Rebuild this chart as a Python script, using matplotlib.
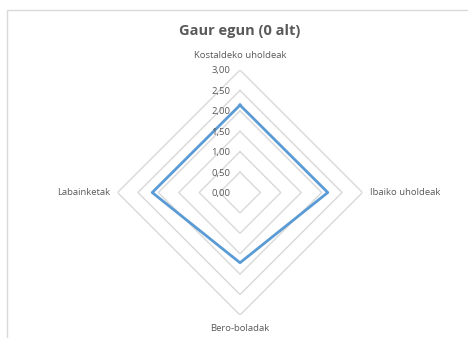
import numpy as np
import matplotlib.pyplot as plt
from matplotlib.patches import Rectangle

plt.rcParams['font.family'] = ['Open Sans', 'DejaVu Sans']

categories = ['Kostaldeko uholdeak', 'Ibaiko uholdeak', 'Bero-boladak', 'Labainketak']
values = [2.14, 2.15, 1.72, 2.15]
levels = [0.0, 0.5, 1.0, 1.5, 2.0, 2.5, 3.0]
level_labels = ['0,00', '0,50', '1,00', '1,50', '2,00', '2,50', '3,00']

W, H = 468, 338
fig = plt.figure(figsize=(W / 100, H / 100), dpi=100)

# outer chart frame
fig.patches.append(Rectangle((7.5 / W, -0.1), 1.2, 1 - 9.5 / H + 0.1,
                             transform=fig.transFigure, fill=False,
                             edgecolor='#d9d9d9', linewidth=1.0))

cx, cy, rad = 240, 338 - 192.5, 122.5
ax = fig.add_axes([(cx - rad) / W, (cy - rad) / H, 2 * rad / W, 2 * rad / H],
                  projection='polar')
ax.set_theta_zero_location('N')
ax.set_theta_direction(-1)
ax.set_ylim(0, 3)
ax.grid(False)
ax.set_xticks([])
ax.set_yticks([])
ax.spines['polar'].set_visible(False)
ax.patch.set_alpha(0)

angles = np.linspace(0, 2 * np.pi, len(categories), endpoint=False)
closed = np.append(angles, angles[0])

# diamond-shaped grid
for lv in levels[1:]:
    ax.plot(closed, [lv] * len(closed), color='#d9d9d9', lw=1.0, zorder=1)

# data series
ax.plot(closed, values + values[:1], color='#5b9bd5', lw=2.0, zorder=3)

# radial value labels along the top axis
for lv, txt in zip(levels, level_labels):
    ax.annotate(txt, (0, lv), xytext=(-10, -1), textcoords='offset pixels',
                ha='right', va='center', fontsize=6.8, color='#595959')

# category labels
offsets = [((0, 10), 'center', 'bottom'), ((8, 0), 'left', 'center'),
           ((0, -9), 'center', 'top'), ((-7, 0), 'right', 'center')]
for ang, name, (off, ha, va) in zip(angles, categories, offsets):
    ax.annotate(name, (ang, 3), xytext=off, textcoords='offset pixels',
                ha=ha, va=va, fontsize=6.8, color='#595959')

fig.text(cx / W, 1 - 31 / H, 'Gaur egun (0 alt)', ha='center', va='center',
         fontsize=10.5, fontweight='bold', color='#595959')

fig.savefig('out.png', dpi=100)
